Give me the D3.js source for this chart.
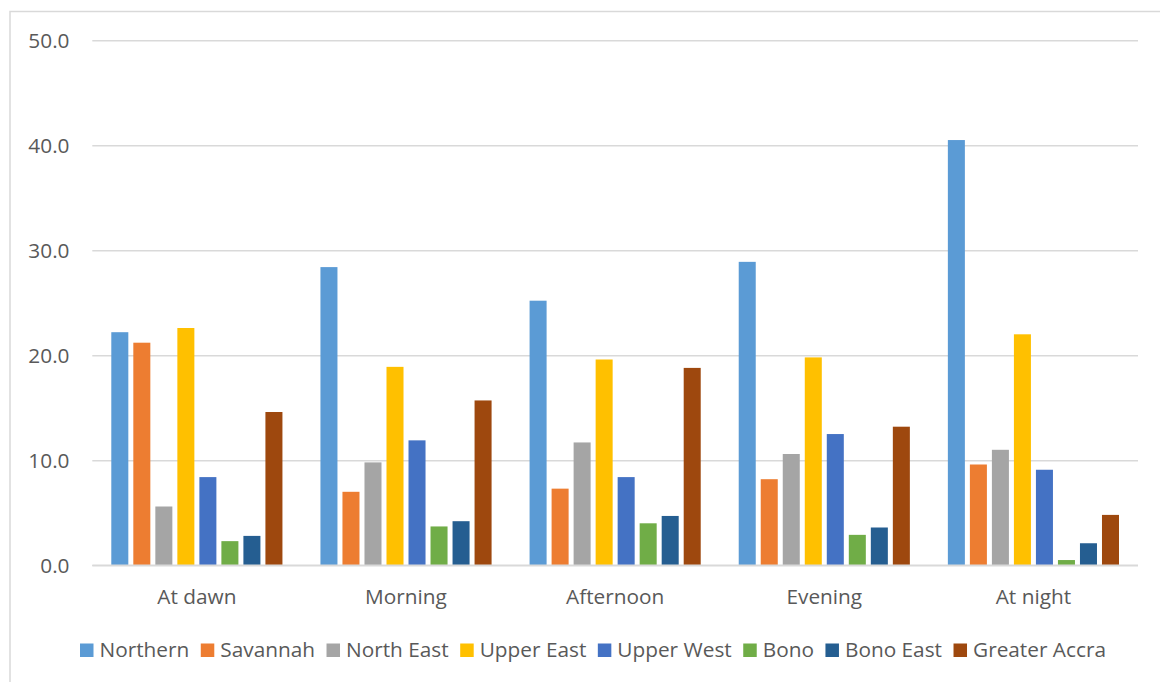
<!DOCTYPE html>
<html>
<head>
<meta charset="utf-8">
<script src="https://cdn.jsdelivr.net/npm/d3@7"></script>
<style>
  html, body { margin: 0; padding: 0; background: #fff; }
  svg { display: block; font-family: "Open Sans", "Noto Sans", sans-serif; }
</style>
</head>
<body>
<svg id="chart" width="1160" height="682"></svg>
<script>
// Times of day along the x axis
const periods = ["At dawn", "Morning", "Afternoon", "Evening", "At night"];

// Regions (one bar per region in each period)
const regions = ["Northern", "Savannah", "North East", "Upper East", "Upper West", "Bono", "Bono East", "Greater Accra"];

// Values per region, in period order
const northern     = [22.2, 28.4, 25.2, 28.9, 40.5];
const savannah     = [21.2, 7.0, 7.3, 8.2, 9.6];
const northEast    = [5.6, 9.8, 11.7, 10.6, 11.0];
const upperEast    = [22.6, 18.9, 19.6, 19.8, 22.0];
const upperWest    = [8.4, 11.9, 8.4, 12.5, 9.1];
const bono         = [2.3, 3.7, 4.0, 2.9, 0.5];
const bonoEast     = [2.8, 4.2, 4.7, 3.6, 2.1];
const greaterAccra = [14.6, 15.7, 18.8, 13.2, 4.8];

// Y axis tick values
const yTicks = [0, 10, 20, 30, 40, 50];

const seriesValues = [northern, savannah, northEast, upperEast, upperWest, bono, bonoEast, greaterAccra];
const colors = ["#5B9BD5", "#ED7D31", "#A5A5A5", "#FFC000", "#4472C4", "#70AD47", "#255E91", "#9E480E"];

const svg = d3.select("#chart");
const W = 1160, H = 682;
const plot = { left: 92.3, right: 1138, top: 40.3, bottom: 565.3 };
const textColor = "#595959";
const gridColor = "#d9d9d9";
const fontSize = "20.8px";

// Chart frame (left and top edges fall inside the page)
svg.append("rect")
  .attr("x", 10).attr("y", 11.5)
  .attr("width", W + 20).attr("height", H + 20)
  .attr("fill", "#fff")
  .attr("stroke", gridColor).attr("stroke-width", 1.5);

const y = d3.scaleLinear().domain([0, 50]).range([plot.bottom, plot.top]);
const x0 = d3.scaleBand().domain(periods).range([plot.left, plot.right]).paddingInner(0).paddingOuter(0);
const x1 = d3.scaleBand().domain(regions)
  .range([16.5, x0.bandwidth() - 16.5])
  .paddingInner(0.227).paddingOuter(0.1136);
const color = d3.scaleOrdinal().domain(regions).range(colors);

// Gridlines and value labels
const yAxis = d3.axisLeft(y).tickValues(yTicks).tickFormat(d3.format(".1f")).tickSize(0).tickPadding(0);
const yg = svg.append("g").attr("transform", `translate(${plot.left},0)`).call(yAxis);
yg.select(".domain").remove();
yg.selectAll(".tick text")
  .attr("x", 69.5 - plot.left)
  .attr("dy", "0.36em")
  .attr("text-anchor", "end")
  .attr("fill", textColor)
  .style("font-size", fontSize)
  .style("font-family", "'Open Sans', 'Noto Sans', sans-serif");
yg.selectAll(".tick line")
  .attr("x1", 0).attr("x2", plot.right - plot.left)
  .attr("stroke", gridColor).attr("stroke-width", 1.5);

// Bars
const groups = svg.append("g").selectAll("g")
  .data(periods)
  .join("g")
  .attr("transform", d => `translate(${x0(d)},0)`);

groups.selectAll("rect")
  .data((p, pi) => regions.map((r, ri) => ({ region: r, value: seriesValues[ri][pi] })))
  .join("rect")
  .attr("x", d => x1(d.region))
  .attr("width", x1.bandwidth())
  .attr("y", d => y(d.value))
  .attr("height", d => y(0) - y(d.value))
  .attr("fill", d => color(d.region));

// Category axis
const xAxis = d3.axisBottom(x0).tickSize(0).tickPadding(0);
const xg = svg.append("g").attr("transform", `translate(0,${plot.bottom})`).call(xAxis);
xg.select(".domain").attr("stroke", gridColor).attr("stroke-width", 1.5)
  .attr("d", `M${plot.left},0H${plot.right}`);
xg.selectAll(".tick text")
  .attr("y", 39)
  .attr("dy", 0)
  .attr("fill", textColor)
  .style("font-size", fontSize)
  .style("font-family", "'Open Sans', 'Noto Sans', sans-serif");

// Legend
const legend = svg.append("g");
const items = legend.selectAll("g").data(regions).join("g");
items.append("rect")
  .attr("width", 13.5).attr("height", 13.5)
  .attr("y", 643.5)
  .attr("fill", d => color(d));
items.append("text")
  .attr("x", 19.5)
  .attr("y", 657)
  .attr("fill", textColor)
  .style("font-size", fontSize)
  .text(d => d);

let cursor = 0;
const offsets = [];
const itemGap = 11.5;
items.each(function () {
  const tw = d3.select(this).select("text").node().getComputedTextLength();
  offsets.push(cursor);
  cursor += 19.5 + tw + itemGap;
});
const totalW = cursor - itemGap;
const legendStart = 593 - totalW / 2;
items.attr("transform", (d, i) => `translate(${legendStart + offsets[i]},0)`);
</script>
</body>
</html>
